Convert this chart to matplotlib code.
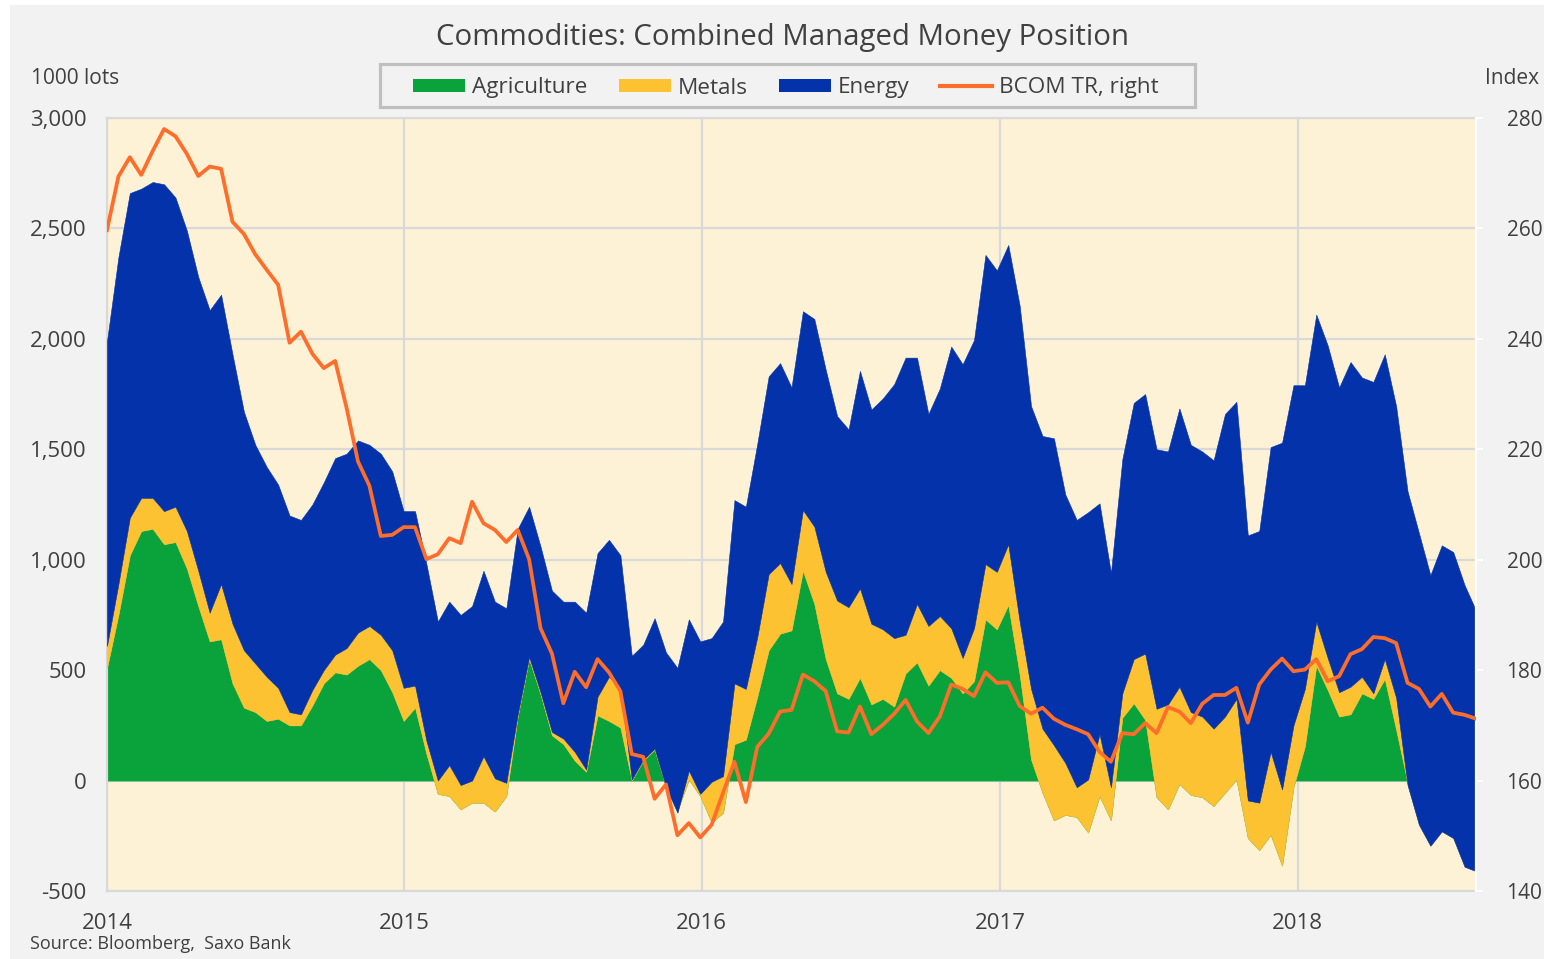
import numpy as np
import pandas as pd
import matplotlib
matplotlib.use("Agg")
import matplotlib.pyplot as plt
import matplotlib.dates as mdates
from matplotlib.patches import Rectangle, Patch
from matplotlib.lines import Line2D
from matplotlib.ticker import FuncFormatter, MultipleLocator

plt.rcParams['font.family'] = ['Open Sans', 'DejaVu Sans']

# fortnightly readings, 1000 lots
dates = pd.date_range("2014-01-01", periods=121, freq="14D")

agriculture = [510, 750, 1020, 1130, 1140, 1070, 1080, 960, 790, 630,
               640, 440, 330, 310, 270, 280, 250, 250, 340, 440,
               490, 480, 520, 550, 500, 400, 270, 330, 120, -60,
               -70, -130, -100, -100, -140, -70, 290, 550, 390, 205,
               165, 90, 40, 295, 270, 240, 0, 90, 140, -30,
               -135, 5, -70, -190, -145, 165, 185, 380, 590, 665,
               680, 950, 800, 550, 395, 370, 465, 345, 370, 335,
               485, 535, 430, 500, 465, 395, 450, 730, 685, 795,
               480, 95, -55, -180, -155, -165, -235, -70, -180, 285,
               350, 275, -75, -130, -15, -65, -75, -115, -55, 5,
               -260, -315, -245, -385, -30, 155, 520, 410, 290, 300,
               395, 370, 460, 230, -10, -100, -150, -120, -130, -190,
               -200]

metals = [100, 140, 170, 150, 140, 150, 160, 170, 160, 130,
          250, 270, 260, 220, 200, 140, 60, 50, 70, 60,
          80, 120, 150, 150, 160, 190, 150, 100, 60, 60,
          140, 110, 100, 210, 150, 60, 10, 10, 10, 15,
          25, 40, 10, 85, 200, 180, 5, 5, 5, 0,
          -10, 40, 10, 185, 165, 275, 230, 270, 345, 320,
          210, 275, 350, 395, 420, 415, 405, 365, 315, 310,
          175, 265, 270, 245, 225, 160, 240, 250, 260, 275,
          240, 320, 290, 340, 235, 135, 240, 280, 150, 110,
          200, 300, 400, 475, 440, 375, 365, 350, 345, 365,
          170, 215, 375, 345, 280, 260, 200, 145, 110, 125,
          75, 25, 90, 145, -10, -100, -145, -110, -130, -200,
          -210]

energy = [1380, 1480, 1470, 1400, 1430, 1480, 1400, 1360, 1330, 1370,
          1310, 1220, 1080, 990, 950, 920, 890, 880, 840, 850,
          890, 880, 870, 820, 820, 810, 800, 790, 800, 720,
          740, 770, 790, 840, 800, 790, 840, 680, 660, 640,
          620, 680, 710, 650, 620, 600, 560, 520, 590, 610,
          655, 685, 690, 650, 700, 830, 825, 875, 895, 905,
          890, 900, 940, 915, 835, 805, 985, 970, 1045, 1150,
          1255, 1115, 960, 1030, 1275, 1330, 1305, 1400, 1365, 1355,
          1430, 1280, 1325, 1390, 1215, 1210, 1210, 1045, 970, 1060,
          1160, 1175, 1175, 1145, 1260, 1210, 1200, 1215, 1370, 1345,
          1200, 1230, 1380, 1570, 1540, 1375, 1390, 1415, 1380, 1470,
          1355, 1410, 1380, 1320, 1330, 1320, 1225, 1295, 1295, 1275,
          1180]

bcom = [259.7, 269.4, 272.9, 269.7, 274.0, 278.0, 276.7, 273.5, 269.5, 271.2,
        270.8, 261.2, 259.0, 255.3, 252.5, 249.8, 239.3, 241.3, 237.3, 234.7,
        236.0, 227.5, 217.8, 213.4, 204.3, 204.5, 205.9, 205.9, 200.1, 201.0,
        203.9, 203.0, 210.5, 206.6, 205.4, 203.2, 205.4, 200.1, 187.6, 183.0,
        174.0, 179.7, 176.9, 182.0, 179.6, 176.2, 164.8, 164.3, 156.7, 159.3,
        150.1, 152.3, 149.7, 152.0, 157.8, 163.4, 156.1, 166.1, 168.5, 172.5,
        172.8, 179.2, 178.0, 176.2, 168.9, 168.7, 173.4, 168.4, 170.1, 172.1,
        174.6, 170.7, 168.6, 171.6, 177.4, 176.6, 175.3, 179.6, 177.7, 177.8,
        173.5, 172.1, 173.2, 171.2, 170.1, 169.3, 168.4, 165.2, 163.4, 168.6,
        168.4, 170.4, 168.6, 173.3, 172.5, 170.4, 173.9, 175.5, 175.5, 176.8,
        170.5, 177.4, 180.1, 182.1, 179.8, 180.1, 182.0, 178.0, 178.9, 182.9,
        183.8, 186.0, 185.8, 184.9, 177.7, 176.6, 173.4, 175.7, 172.3, 171.9,
        171.2]

GREEN = "#0AA23A"
YELLOW = "#FDC232"
BLUE = "#0432AA"
ORANGE = "#FF6D2A"
TEXT = "#404040"
GRID = "#D9D9D9"

W, H = 1544, 959
fig = plt.figure(figsize=(W / 100, H / 100), dpi=100, facecolor="white")
fig.patches.append(Rectangle((10 / W, 0), 1 - 10 / W, 1 - 5 / H, transform=fig.transFigure,
                             facecolor="#F2F2F2", edgecolor="none", zorder=-10))

ax = fig.add_axes([107 / W, 1 - 891 / H, (1476 - 107) / W, (891 - 118) / H])
ax.set_facecolor("#FEF2D6")

# Excel-style stacking: each series fills from the previous running total
c1 = np.array(agriculture, dtype=float)
c2 = c1 + np.array(metals)
c3 = c2 + np.array(energy)
ax.fill_between(dates, 0, c1, color=GREEN, lw=0.4, zorder=2)
ax.fill_between(dates, c1, c2, color=YELLOW, lw=0.4, zorder=3)
ax.fill_between(dates, c2, c3, color=BLUE, lw=0.4, zorder=4)

ax.set_ylim(-500, 3000)
ax.yaxis.set_major_locator(MultipleLocator(500))
ax.yaxis.set_major_formatter(FuncFormatter(lambda v, p: f"{int(v):,}"))
ax.set_xlim(dates[0], dates[-1])
ax.xaxis.set_major_locator(mdates.YearLocator())
ax.xaxis.set_major_formatter(mdates.DateFormatter("%Y"))
ax.grid(True, color=GRID, lw=1.6, zorder=1)
ax.set_axisbelow(True)
ax.tick_params(axis="both", length=0, labelsize=16, labelcolor=TEXT)
ax.tick_params(axis="y", pad=14.5)
ax.tick_params(axis="x", pad=16)
for s in ["left", "bottom", "top"]:
    ax.spines[s].set_color(GRID)
    ax.spines[s].set_linewidth(1.6)
ax.spines["right"].set_visible(False)

ax2 = ax.twinx()
ax2.plot(dates, bcom, color=ORANGE, lw=2.7, zorder=5)
ax2.set_ylim(140, 280)
ax2.yaxis.set_major_locator(MultipleLocator(20))
ax2.tick_params(axis="y", length=5, width=1.5, color="white", labelsize=15,
                labelcolor=TEXT, pad=17)
for s in ["left", "bottom", "top"]:
    ax2.spines[s].set_visible(False)
ax2.spines["right"].set_color("white")
ax2.spines["right"].set_linewidth(1.6)

fig.text(783 / W, 1 - 38 / H, "Commodities: Combined Managed Money Position",
         ha="center", va="center", fontsize=21.2, color=TEXT)
fig.text(31 / W, 1 - 79 / H, "1000 lots", ha="left", va="center", fontsize=15, color=TEXT)
fig.text(1539 / W, 1 - 79 / H, "Index", ha="right", va="center", fontsize=15, color=TEXT)
fig.text(30 / W, 1 - 944 / H, "Source: Bloomberg,  Saxo Bank", ha="left", va="center",
         fontsize=13, color=TEXT)

# legend box drawn separately: wider side padding than top/bottom
fig.patches.append(Rectangle((380 / W, 1 - 107 / H), (1195 - 380) / W, 43 / H,
                             transform=fig.transFigure, facecolor="#F2F2F2",
                             edgecolor="#BFBFBF", lw=2.3, zorder=1))
handles = [Patch(facecolor=GREEN, label="Agriculture"),
           Patch(facecolor=YELLOW, label="Metals"),
           Patch(facecolor=BLUE, label="Energy"),
           Line2D([], [], color=ORANGE, lw=3, label="BCOM TR, right")]
leg = fig.legend(handles=handles, loc="center", bbox_to_anchor=(786 / W, 1 - 88 / H),
                 ncol=4, fontsize=16.2, frameon=False,
                 handlelength=2.3, handleheight=0.5, handletextpad=0.3,
                 columnspacing=1.4, borderpad=0.2, labelcolor=TEXT)

fig.savefig("out.png", dpi=100, facecolor=fig.get_facecolor())
